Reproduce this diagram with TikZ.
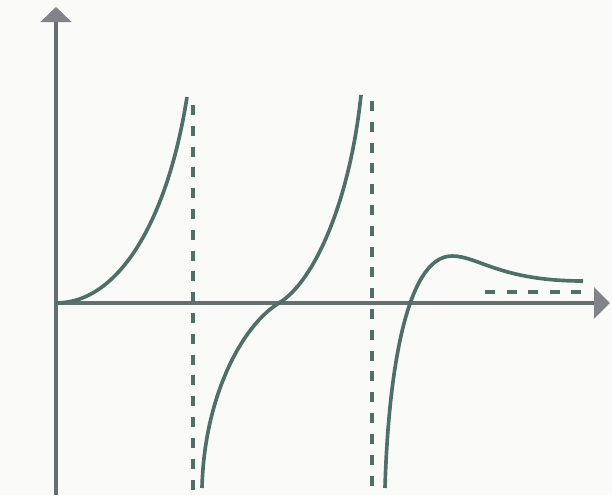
\documentclass[tikz,border=0pt]{standalone}
\usepackage{tikz}
\usetikzlibrary{arrows.meta}
\usepackage{xcolor}
\definecolor{curvegreen}{RGB}{78,112,104}
\definecolor{axisgray}{RGB}{100,112,112}
\definecolor{tipgray}{RGB}{128,132,136}
\definecolor{papergray}{RGB}{250,250,249}

\begin{document}
\begin{tikzpicture}[x=0.025cm, y=0.025cm]
    % Frame of the page
    \fill[papergray] (-56, -192) rectangle (556, 303);
    \useasboundingbox (-56, -192) rectangle (556, 303);

    % Axes
    \draw[axisgray, line width=2.3pt, -{Triangle[length=3.8mm, width=7.8mm, color=tipgray]}]
        (0, -192) -- (0, 296);
    \draw[axisgray, line width=2.3pt, -{Triangle[length=4mm, width=7.8mm, color=tipgray]}]
        (0, 0) -- (554, 0);

    % Asymptotes
    \draw[curvegreen, line width=2.5pt, dash pattern=on 2.5mm off 2.7mm] (137, 198) -- (137, -192);
    \draw[curvegreen, line width=2.5pt, dash pattern=on 2.5mm off 2.7mm] (316, 202) -- (316, -192);
    \draw[curvegreen, line width=2.5pt, dash pattern=on 2.5mm off 2.9mm] (429, 11) -- (528, 11);

    % First branch
    \draw[curvegreen, line width=2.6pt]
        (0, 0) .. controls (64, 0) and (112, 85) .. (131, 206);

    % Second branch
    \draw[curvegreen, line width=2.6pt]
        (146, -185) .. controls (148, -97) and (184, -24) .. (223, 0)
        .. controls (259, 22) and (294, 103) .. (305, 208);

    % Third branch
    \draw[curvegreen, line width=2.6pt]
        (329, -185) .. controls (332, -77) and (349, 47) .. (396, 47)
        .. controls (422, 47) and (444, 22) .. (527, 22);
\end{tikzpicture}
\end{document}
